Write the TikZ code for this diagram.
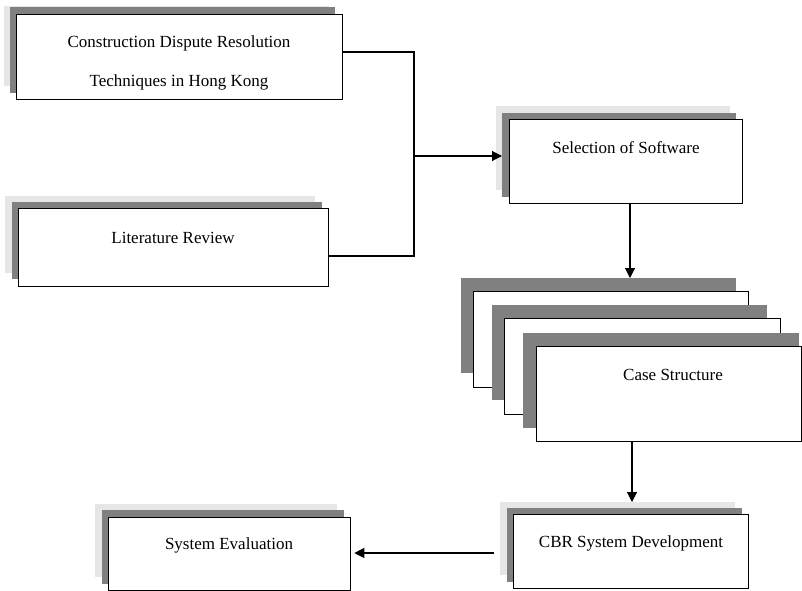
\documentclass[tikz,border=0pt]{standalone}
\usepackage{fontspec}
\setmainfont{Liberation Serif}
\usetikzlibrary{arrows.meta}
\definecolor{shdark}{HTML}{808080}
\definecolor{shlight}{HTML}{E6E6E6}
\tikzset{
  mainbox/.style={draw=black, line width=1.3pt, fill=white, inner sep=0pt, anchor=north west},
  darksh/.style={fill=shdark, draw=none, inner sep=0pt, anchor=north west},
  lightsh/.style={fill=shlight, draw=none, inner sep=0pt, anchor=north west},
  lbl/.style={inner sep=0pt, font=\fontsize{17}{20}\selectfont},
  conn/.style={draw=black, line width=1.1pt},
  arr/.style={conn, -{Triangle[length=10pt,width=10pt]}}
}
\newcommand{\mkbox}[6]{% name, x, y, w, h, which
  \node[#6, minimum width=#4pt, minimum height=#5pt] (#1) at (#2,#3) {};}
\begin{document}
\begin{tikzpicture}[x=1pt,y=-1pt]
\useasboundingbox (0,0) rectangle (802,590);

% Box 1
\mkbox{b1l}{4}{6}{325}{80}{lightsh}
\mkbox{b1d}{10}{7}{325}{86}{darksh}
\mkbox{b1}{16}{14}{326}{85}{mainbox}
\node[lbl] (b1t1) at (179,43) {Construction Dispute Resolution};
\node[lbl] (b1t2) at (179,82) {Techniques in Hong Kong};

% Box 2
\mkbox{b2l}{5}{196}{310}{77}{lightsh}
\mkbox{b2d}{12}{202}{310}{77}{darksh}
\mkbox{b2}{18}{208}{310}{78}{mainbox}
\node[lbl] (b2t) at (173,238) {Literature Review};

% Selection
\mkbox{sl}{496}{106}{234}{84}{lightsh}
\mkbox{sd}{502}{113}{234}{84}{darksh}
\mkbox{sel}{509}{119}{233}{84}{mainbox}
\node[lbl] (selt) at (626,148) {Selection of Software};

% Case stack
\mkbox{c1d}{461}{278}{275}{95}{darksh}
\mkbox{c1}{473}{291}{275}{96}{mainbox}
\mkbox{c2d}{492}{305}{275}{95}{darksh}
\mkbox{c2}{504}{318}{276}{96}{mainbox}
\mkbox{c3d}{523}{333}{276}{95}{darksh}
\mkbox{cs}{536}{346}{265}{95}{mainbox}
\node[lbl] (cst) at (673,375) {Case Structure};

% CBR
\mkbox{cbrl}{500}{502}{235}{73}{lightsh}
\mkbox{cbrd}{507}{508}{235}{74}{darksh}
\mkbox{cbr}{513}{514}{235}{74}{mainbox}
\node[lbl] (cbrt) at (631,543) {CBR System Development};

% System Evaluation
\mkbox{sel2l}{95}{504}{242}{73}{lightsh}
\mkbox{sel2d}{102}{510}{242}{74}{darksh}
\mkbox{se}{108}{517}{242}{73}{mainbox}
\node[lbl] (set) at (229,545) {System Evaluation};

% Connectors
\coordinate (j) at (414,156);
\draw[conn] (b1.east |- 0,52) -| (j) |- (b2.east |- 0,256);
\draw[arr] (j) -- (j -| sd.west);
\draw[arr] (sel.south -| 630,0) -- (c1d.north -| 630,0);
\draw[arr] (cs.south -| 632,0) -- (cbrl.north -| 632,0);
\coordinate (cbrfrom) at ([xshift=-6pt]cbrl.west |- 0,553);
\coordinate (seto) at ([xshift=3pt]se.east |- 0,553);
\draw[arr] (cbrfrom) -- (seto);
\end{tikzpicture}
\end{document}
